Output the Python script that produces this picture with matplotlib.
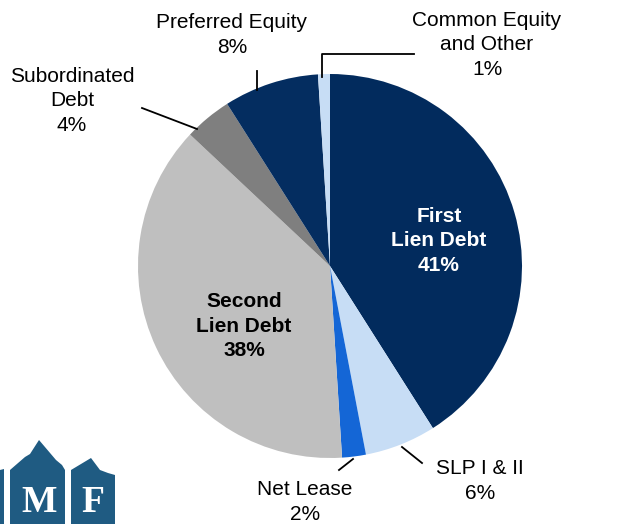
import matplotlib
matplotlib.use("Agg")
import matplotlib.pyplot as plt
import matplotlib.patches as patches

plt.rcParams['font.family'] = ['Liberation Sans', 'DejaVu Sans']

# portfolio composition (%), clockwise from 12 o'clock
categories = ["First Lien Debt", "SLP I & II", "Net Lease", "Second Lien Debt",
              "Subordinated Debt", "Preferred Equity", "Common Equity and Other"]
shares = [41, 6, 2, 38, 4, 8, 1]
colors = ["#022B5D", "#C7DDF5", "#1466D6", "#BFBFBF", "#7F7F7F", "#042D60", "#C7DDF5"]

W, H = 641, 524


def py(y):
    # pixel row (from top) -> data y
    return H - y


fig = plt.figure(figsize=(W / 100, H / 100), dpi=100)
ax = fig.add_axes([0, 0, 1, 1])

ax.pie(shares, colors=colors, startangle=90, counterclock=False,
       center=(330, py(266)), radius=192, frame=True,
       wedgeprops=dict(linewidth=0))
ax.set_xlim(0, W)
ax.set_ylim(0, H)
ax.set_aspect('equal')
ax.axis('off')

fs = 15
ls = 1.36
# inside labels
ax.text(439, py(241), "First\nLien Debt\n41%", ha='center', va='center',
        fontsize=fs, fontweight='bold', color='white', linespacing=ls)
ax.text(244, py(326), "Second\nLien Debt\n38%", ha='center', va='center',
        fontsize=fs, fontweight='bold', color='black', linespacing=ls)

# outside labels
outside = [
    ("Preferred Equity\n8%", 232, 35),
    ("Common Equity\nand Other\n1%", 487, 45),
    ("Subordinated\nDebt\n4%", 72, 101),
    ("Net Lease\n2%", 305, 502),
    ("SLP I & II\n6%", 480, 481),
]
for txt, x, y in outside:
    ax.text(x, py(y), txt, ha='center', va='center', fontsize=fs,
            color='black', linespacing=ls)

# leader lines
leaders = [
    ([322, 322, 414], [77, 54, 54]),
    ([257, 257], [71, 90]),
    ([142, 197], [108, 129]),
    ([339, 353], [470, 459]),
    ([402, 422], [447, 463]),
]
for xs, ys in leaders:
    ax.plot(xs, [py(v) for v in ys], color='black', linewidth=1.3)

# logo
logo_c = "#1F5B82"
houses = [
    [(0, 524), (0, 470), (4, 469), (4, 524)],
    [(10, 524), (10, 470), (25, 457), (30, 454), (39, 440), (56, 460),
     (62, 465), (65, 470), (65, 524)],
    [(71, 524), (71, 470), (91, 458), (100, 470), (108, 473), (115, 475), (115, 524)],
]
for pts in houses:
    ax.add_patch(patches.Polygon([(x, py(y)) for x, y in pts], closed=True,
                                 facecolor=logo_c, edgecolor='none'))
ax.text(39, py(502), "M", ha='center', va='center', fontsize=27,
        color='white', family='Liberation Serif', fontweight='bold')
ax.text(93, py(502), "F", ha='center', va='center', fontsize=27,
        color='white', family='Liberation Serif', fontweight='bold')

fig.savefig("out.png", dpi=100)
